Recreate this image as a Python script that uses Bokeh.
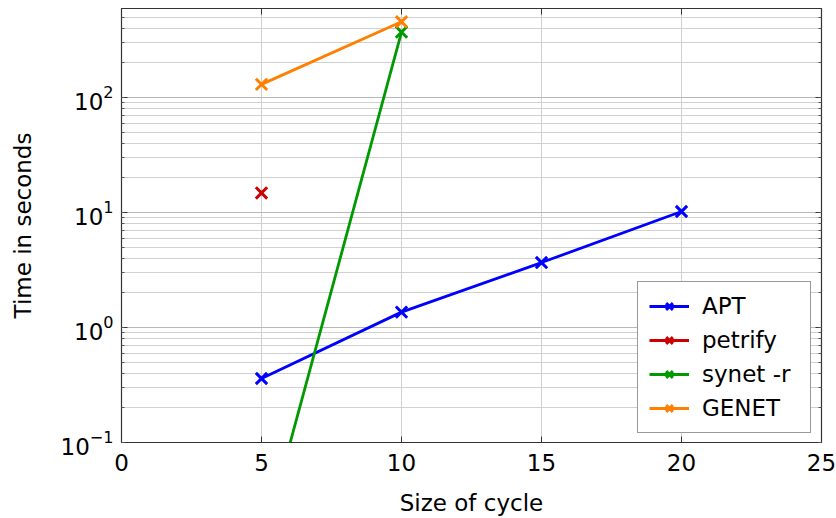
from bokeh.plotting import figure
from bokeh.models import (LinearAxis, LogAxis, Range1d, FixedTicker, Legend, LegendItem,
                          LogTicker, CustomJSTickFormatter)
from bokeh.embed import file_html
from bokeh.resources import INLINE

# data
apt_x = [5, 10, 15, 20]
apt_y = [0.36, 1.36, 3.67, 10.2]
petrify_x = [5]
petrify_y = [14.8]
synet_x = [5, 10]
synet_y = [0.012, 370]
genet_x = [5, 10]
genet_y = [130, 455]

x_ticks = [0, 5, 10, 15, 20, 25]

FONT = "DejaVu Sans"
FS = "23px"

p = figure(width=836, height=518, output_backend="svg", toolbar_location=None,
           y_axis_type="log", x_range=Range1d(0, 25), y_range=Range1d(0.1, 594),
           min_border_left=121, min_border_right=15, min_border_top=8, min_border_bottom=76)
p.background_fill_color = "white"
p.border_fill_color = "white"
p.outline_line_color = "#333333"
p.outline_line_width = 1.2

# axes
p.xaxis.ticker = FixedTicker(ticks=x_ticks)
p.xaxis.axis_label = "Size of cycle"
p.yaxis.axis_label = "Time in seconds"
for ax in [p.xaxis[0], p.yaxis[0]]:
    ax.axis_label_text_font = FONT
    ax.axis_label_text_font_size = FS
    ax.axis_label_text_font_style = "normal"
    ax.axis_label_text_color = "black"
    ax.major_label_text_font = FONT
    ax.major_label_text_font_size = FS
    ax.major_label_text_color = "black"
    ax.axis_line_color = "#333333"
    ax.major_tick_in = 6
    ax.major_tick_out = 0
    ax.major_tick_line_color = "#333333"
    ax.minor_tick_in = 3
    ax.minor_tick_out = 0
    ax.minor_tick_line_color = "#555555"
p.xaxis.minor_tick_line_color = None
p.xaxis.axis_label_standoff = 16
p.yaxis.axis_label_standoff = 22
p.xaxis.major_label_standoff = 11
p.yaxis.major_label_standoff = 8

empty = CustomJSTickFormatter(code="return ''")
# mirrored axes without labels
ra = LogAxis(ticker=LogTicker(num_minor_ticks=10), formatter=empty,
             major_tick_in=6, major_tick_out=0, minor_tick_in=3, minor_tick_out=0,
             major_label_standoff=0,
             axis_line_color="#333333", major_tick_line_color="#333333",
             minor_tick_line_color="#555555")
p.add_layout(ra, "right")
ta = LinearAxis(ticker=FixedTicker(ticks=x_ticks), formatter=CustomJSTickFormatter(code="return ''"),
                major_tick_in=6, major_tick_out=0, minor_tick_line_color=None,
                major_label_standoff=0,
                axis_line_color="#333333", major_tick_line_color="#333333")
p.add_layout(ta, "above")

# grids
p.xgrid.grid_line_color = "#d0d0d0"
p.ygrid.grid_line_color = "#b8b8b8"
p.ygrid.minor_grid_line_color = "#d0d0d0"
p.xgrid.ticker = FixedTicker(ticks=x_ticks)

series = [
    ("APT", apt_x, apt_y, "#0000ff"),
    ("petrify", petrify_x, petrify_y, "#cc0000"),
    ("synet -r", synet_x, synet_y, "#009900"),
    ("GENET", genet_x, genet_y, "#ff8000"),
]
items = []
for name, xs, ys, col in series:
    l = p.line(xs, ys, line_color=col, line_width=2.8)
    s = p.scatter(xs, ys, marker="x", size=16, line_color=col, line_width=3)
    items.append(LegendItem(label=name, renderers=[l, s]))

legend = Legend(items=items, location=(516, 9), label_text_font=FONT,
                label_text_font_size=FS, label_text_color="black",
                glyph_width=40, glyph_height=24,
                label_height=24, label_width=97, spacing=8, padding=11, margin=0,
                border_line_color="#333333", border_line_width=1.2,
                background_fill_color="white", background_fill_alpha=1.0,
                label_standoff=13)
p.add_layout(legend)

open("out.html", "w").write(file_html(p, INLINE))
